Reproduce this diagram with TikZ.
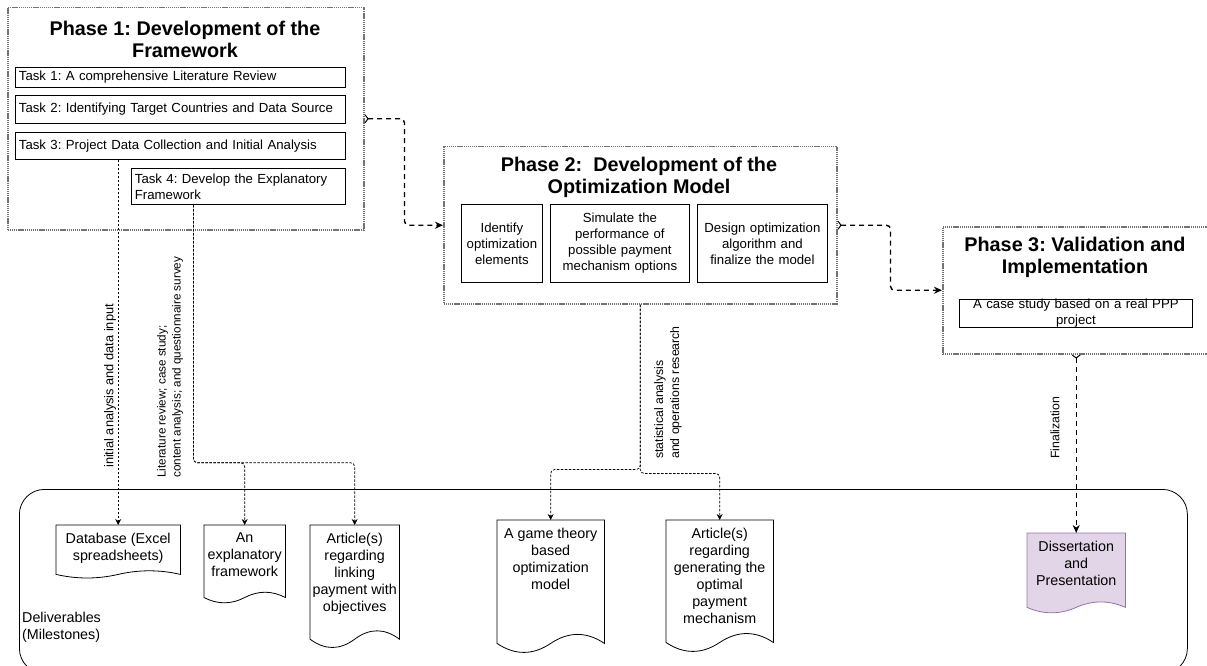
\documentclass[tikz,border=0pt]{standalone}
\usepackage{fontspec}
\setmainfont{Liberation Sans}
\usetikzlibrary{arrows.meta,calc}
\frenchspacing

\definecolor{docfill}{HTML}{E1D5E7}
\definecolor{docdraw}{HTML}{9673A6}

% outline of a "document" shape (flat top, wavy bottom) around an empty node
\newcommand\docoutline[2][]{%
  \draw[docline,#1] let \p1=(#2.north west), \p2=(#2.south east),
    \n1={0.15*(\y1-\y2)}, \n2={\x2-\x1}, \n3={\y2+\n1/2} in
    (\x1,\y1) -- (\x2,\y1) -- (\x2,\n3)
    .. controls ({\x2-\n2/6},{\n3+0.6*\n1}) and ({\x2-\n2/3},{\n3+0.6*\n1}) .. ({\x2-\n2/2},\n3)
    .. controls ({\x1+\n2/3},{\n3-0.6*\n1}) and ({\x1+\n2/6},{\n3-0.6*\n1}) .. (\x1,\n3) -- cycle;}

\begin{document}
\begin{tikzpicture}[x=1pt,y=1pt,
  font=\fontsize{13.2}{16}\selectfont,
  phasebox/.style={draw=black!55, line width=1.5pt, dash pattern=on 1.3pt off 0.8pt,
    inner sep=0pt, anchor=north west},
  phasetitle/.style={font=\fontsize{19.8}{22}\selectfont\bfseries, align=center, inner sep=0pt},
  taskbox/.style={draw, line width=0.8pt, inner xsep=3.5pt, inner ysep=0pt, align=left,
    anchor=north west},
  stepbox/.style={draw, line width=0.8pt, inner sep=0pt, align=center, anchor=north west},
  docbox/.style={inner sep=0pt, anchor=north west},
  docline/.style={draw=black, line width=0.8pt},
  doctext/.style={font=\fontsize{14.3}{17}\selectfont, align=center, inner sep=0pt, anchor=north},
  flow/.style={draw, line width=1.4pt, dash pattern=on 5pt off 4pt, rounded corners=4pt,
    arrows={Straight Barb[reversed,length=3pt,width=8pt,line width=1pt]-Stealth[length=8pt,width=7pt]}},
  thinflow/.style={draw, line width=0.7pt, dash pattern=on 2.5pt off 1.5pt, rounded corners=4pt,
    -{Stealth[length=6pt,width=6pt]}},
  vlabel/.style={font=\fontsize{12.3}{15}\selectfont, rotate=90, anchor=west, align=left, inner sep=0pt}
]
\useasboundingbox (0,0) rectangle (1207,-666);

% ---------------- Phase 1 ----------------
\node[phasebox, minimum width=356, minimum height=222] (p1) at (7,-7) {};
\node[phasetitle] (p1t) at (185,-39) {Phase 1: Development of the\\Framework};
\node[taskbox, text width=323, minimum height=20] (t1) at (15,-67) {Task 1: A comprehensive Literature Review};
\node[taskbox, text width=323, minimum height=28] (t2) at (15,-95) {Task 2: Identifying Target Countries and Data Source};
\node[taskbox, text width=323, minimum height=27] (t3) at (15,-132) {Task 3: Project Data Collection and Initial Analysis};
\node[taskbox, text width=207, minimum height=36] (t4) at (131,-168) {Task 4: Develop the Explanatory\\Framework};

% ---------------- Phase 2 ----------------
\node[phasebox, minimum width=393, minimum height=157] (p2) at (443,-146) {};
\node[phasetitle] (p2t) at (639,-177) {Phase 2:~ Development of the\\Optimization Model};
\node[stepbox, text width=81, minimum height=78] (s1) at (461,-204) {Identify\\optimization\\elements};
\node[stepbox, text width=139, minimum height=78] (s2) at (550,-204) {Simulate the\\performance of\\possible payment\\mechanism options};
\node[stepbox, text width=130, minimum height=78] (s3) at (697,-204) {Design optimization\\algorithm and\\finalize the model};

% ---------------- Phase 3 ----------------
\node[phasebox, minimum width=270, minimum height=127] (p3) at (942,-226) {};
\node[phasetitle] (p3t) at (1075,-257) {Phase 3: Validation and\\Implementation};
\node[stepbox, text width=233, minimum height=27] (c1) at (959,-299) {A case study based on a real PPP\\project};

% ---------------- Deliverables ----------------
\node[draw, line width=0.8pt, rounded corners=25pt, minimum width=1168, minimum height=184,
  inner sep=0pt, anchor=north west] (deliv) at (19,-489) {};
\node[font=\fontsize{14.3}{17}\selectfont, align=left, anchor=west, inner sep=0pt] (delivt)
  at (22,-627) {Deliverables\\(Milestones)};

\node[docbox, minimum width=124, minimum height=53] (db) at (56,-525) {};
\docoutline{db}
\node[doctext] (dbt) at ([yshift=-7.5pt]db.north) {Database (Excel\\spreadsheets)};

\node[docbox, minimum width=81, minimum height=78] (ef) at (204,-525) {};
\docoutline{ef}
\node[doctext] (eft) at ([yshift=-7.5pt]ef.north) {An\\explanatory\\framework};

\node[docbox, minimum width=89, minimum height=123] (a1) at (310,-525) {};
\docoutline{a1}
\node[doctext] (a1t) at ([yshift=-7.5pt]a1.north) {Article(s)\\regarding\\linking\\payment with\\objectives};

\node[docbox, minimum width=107, minimum height=133] (gt) at (497,-520) {};
\docoutline{gt}
\node[doctext] (gtt) at ([yshift=-7.5pt]gt.north) {A game theory\\based\\optimization\\model};

\node[docbox, minimum width=107, minimum height=132] (a2) at (666,-520) {};
\docoutline{a2}
\node[doctext] (a2t) at ([yshift=-7.5pt]a2.north) {Article(s)\\regarding\\generating the\\optimal\\payment\\mechanism};

\node[docbox, minimum width=98, minimum height=80] (dp) at (1027,-533) {};
\docoutline[fill=docfill, draw=docdraw]{dp}
\node[doctext] (dpt) at ([yshift=-7.5pt]dp.north) {Dissertation\\and\\Presentation};

% ---------------- Phase flow ----------------
\draw[flow] (p1.east) -- ++(40,0) |- (p2.west);
\draw[flow] (p2.east) -- ++(53,0) |- (p3.west);
\draw[flow] (dp.north |- p3.south) -- (dp.north);

% ---------------- Links to deliverables ----------------
\draw[thinflow] (db.north |- t3.south) -- (db.north);
\draw[thinflow] ([xshift=-45pt]t4.south) -- ++(0,-258) -| (ef.north);
\draw[thinflow] ([xshift=-45pt]t4.south) -- ++(0,-258) -| (a1.north);
\draw[thinflow] (p2.south) -- ++(0,-165) -| (gt.north);
\draw[thinflow] (p2.south) -- ++(0,-169) -| (a2.north);

% ---------------- Link labels ----------------
\node[vlabel, font=\fontsize{12.8}{15}\selectfont] (l1) at (110,-468) {initial analysis and data input};
\node[vlabel, font=\fontsize{11.7}{15}\selectfont] (l2) at (170,-478) {Literature review; case study;\\content analysis; and questionnaire survey};
\node[vlabel, font=\fontsize{12.3}{16}\selectfont] (l3) at (668,-459) {statistical analysis\\and operations research};
\node[vlabel] (l4) at (1055,-459) {Finalization};
\end{tikzpicture}
\end{document}
